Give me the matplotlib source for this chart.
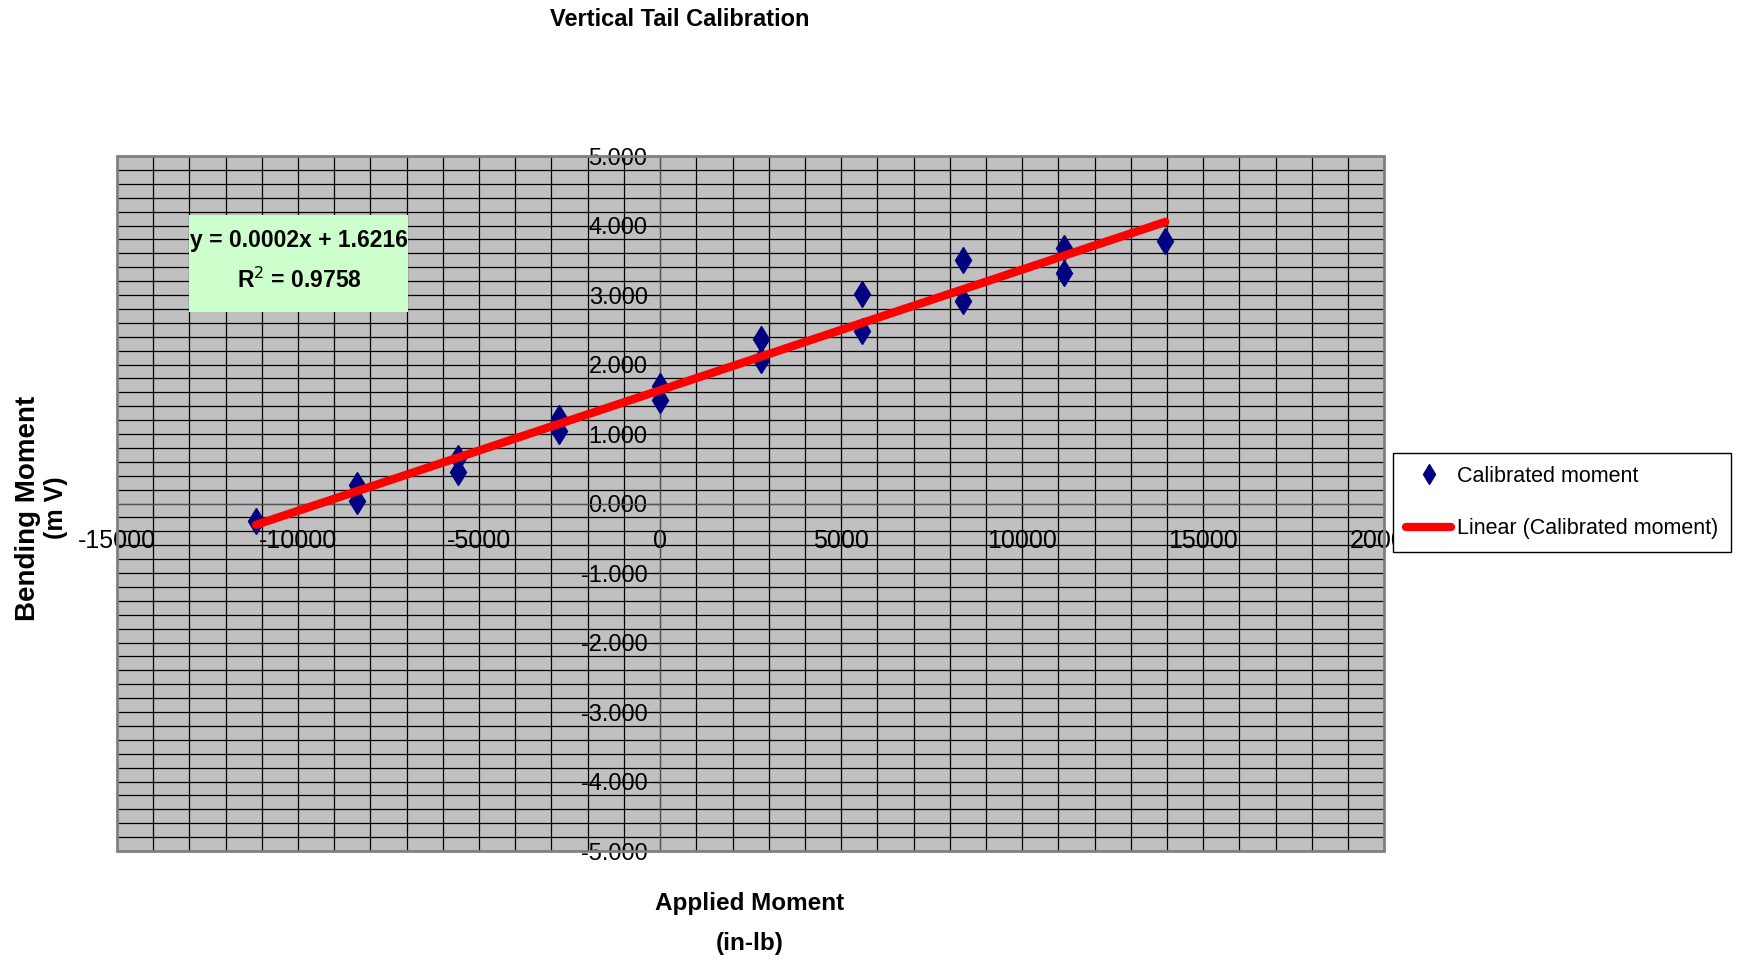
import numpy as np
import matplotlib
matplotlib.use("Agg")
import matplotlib.pyplot as plt
from matplotlib import font_manager as fm
from matplotlib.patches import Rectangle

# font: narrow sans if available
names = {f.name for f in fm.fontManager.ttflist}
fam = 'Liberation Sans Narrow' if 'Liberation Sans Narrow' in names else 'Liberation Sans'
plt.rcParams['font.family'] = [fam, 'DejaVu Sans']
plt.rcParams['axes.unicode_minus'] = False

# applied moment (in-lb) and measured bending moment (mV)
applied = [-11160, -8370, -8370, -5580, -5580, -2790, -2790, 0, 0,
           2790, 2790, 5580, 5580, 8370, 8370, 11160, 11160, 13950]
bending = [-0.25, 0.26, 0.03, 0.65, 0.46, 1.23, 1.04, 1.69, 1.49,
           2.36, 2.06, 3.02, 2.48, 3.51, 2.91, 3.67, 3.32, 3.77]

eq_text = "y = 0.0002x + 1.6216"
r2_text = "R$^2$ = 0.9758"

x = np.array(applied, dtype=float)
y = np.array(bending)
slope, icpt = np.polyfit(x, y, 1)
xfit = np.array([x.min(), x.max()])
yfit = slope * xfit + icpt

fig = plt.figure(figsize=(17.43, 9.63), dpi=100)
ax = fig.add_axes([0.0671, 0.1163, 0.7271, 0.7217])
ax.set_facecolor('#C0C0C0')

ax.set_xlim(-15000, 20000)
ax.set_ylim(-5, 5)
ax.set_xticks(np.arange(-15000, 20001, 5000))
ax.set_xticks(np.arange(-15000, 20001, 1000), minor=True)
ax.set_yticks(np.arange(-5, 5.01, 1))
ax.set_yticks(np.arange(-5, 5.01, 0.2), minor=True)
ax.set_yticklabels([f"{v:.3f}" for v in np.arange(-5, 5.01, 1)])
ax.grid(which='both', color='black', lw=0.9)
ax.set_axisbelow(True)

for s in ['top', 'right']:
    ax.spines[s].set_visible(False)
ax.spines['left'].set_position(('data', 0))
ax.spines['bottom'].set_position(('data', 0))
ax.spines['left'].set_color('#555555')
ax.spines['bottom'].set_color('#555555')
ax.tick_params(which='minor', length=0)
ax.tick_params(axis='y', which='major', direction='out', length=6, pad=3, labelsize=17)
ax.tick_params(axis='x', which='major', direction='out', length=6, pad=12, labelsize=18)
ax.add_patch(Rectangle((0, 0), 1, 1, transform=ax.transAxes, fill=False,
                       edgecolor='#808080', lw=2, clip_on=False, zorder=5))

ax.plot(x, y, 'd', color='#000080', ms=13, label='Calibrated moment', zorder=3)
ax.plot(xfit, yfit, '-', color='#FF0000', lw=6, solid_capstyle='round',
        label='Linear (Calibrated moment)', zorder=4)

# trendline equation box
ax.add_patch(Rectangle((189 / 1743, 1 - 312 / 963), 219 / 1743, 97 / 963,
                       transform=fig.transFigure, facecolor='#CCFFCC',
                       edgecolor='none', zorder=6))
fig.text(299 / 1743, 1 - 241 / 963, eq_text, ha='center', va='center',
         fontsize=16.5, fontweight='bold', zorder=7)
fig.text(299 / 1743, 1 - 280 / 963, r2_text, ha='center', va='center',
         fontsize=16.5, fontweight='bold', zorder=7)

fig.text(680 / 1743, 1 - 19 / 963, "Vertical Tail Calibration", ha='center',
         va='center', fontsize=17, fontweight='bold')
fig.text(750 / 1743, 1 - 903 / 963, "Applied Moment", ha='center', va='center',
         fontsize=17.5, fontweight='bold')
fig.text(750 / 1743, 1 - 943 / 963, "(in-lb)", ha='center', va='center',
         fontsize=17.5, fontweight='bold')
fig.text(28 / 1743, 1 - 508 / 963, "Bending Moment", ha='center', va='center',
         rotation=90, fontsize=20, fontweight='bold')
fig.text(56 / 1743, 1 - 508 / 963, "(m V)", ha='center', va='center',
         rotation=90, fontsize=18, fontweight='bold')

leg = fig.legend(loc='upper left', bbox_to_anchor=(1393 / 1743, 1 - 453 / 963),
                 borderaxespad=0, fontsize=15.5, frameon=True, fancybox=False,
                 edgecolor='black', framealpha=1, handlelength=2.1,
                 borderpad=0.6, labelspacing=1.45, handletextpad=0.25,
                 markerscale=0.75)
leg.get_frame().set_linewidth(1)
leg.set_zorder(10)

fig.savefig("out.png", dpi=100)
